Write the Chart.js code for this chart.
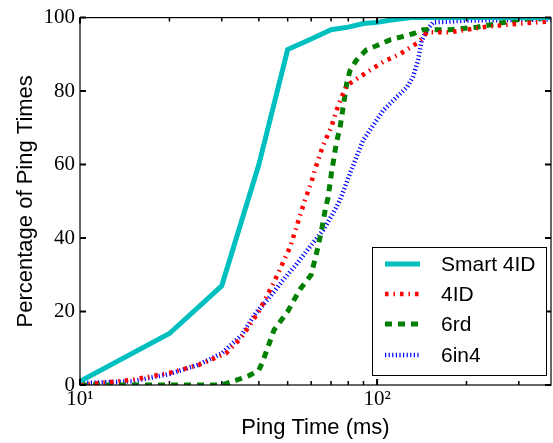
<!DOCTYPE html>
<html>
<head>
<meta charset="utf-8">
<script src="https://cdn.jsdelivr.net/npm/chart.js@4.4.0/dist/chart.umd.min.js"></script>
<style>
  html, body { margin: 0; padding: 0; background: #fff; }
  #wrap { width: 553px; height: 443px; }
</style>
</head>
<body>
<div id="wrap"><canvas id="pingChart" width="553" height="443"></canvas></div>
<script>
// ping time (ms) / percentage
var smartX = [10, 20, 30, 40, 50, 60, 70, 80, 90, 100, 110, 130, 385];
var smartY = [1, 14, 27, 60, 91.3, 94.2, 96.7, 97.4, 98.4, 98.7, 99.3, 100, 100];

var id4X = [10, 15, 20, 25, 31, 35, 40, 45, 51, 57, 60, 62, 66, 70, 73, 76, 79, 88, 105, 119, 136, 143, 147, 176, 227, 295, 385];
var id4Y = [0, 1.4, 3.3, 5.4, 8.6, 13, 20, 28, 37.6, 50, 55, 59, 65.5, 70, 74.7, 78.4, 81.5, 84, 88, 90, 93, 94.6, 96, 96, 97.4, 98.3, 99];

var rdX = [10, 30, 33.6, 37, 40, 41.4, 45, 50, 55, 60, 63, 65, 67, 68.4, 70.3, 73, 75, 77, 79, 81, 85, 92, 100, 111, 120, 132, 143, 176, 217, 260, 300, 385];
var rdY = [0, 0, 1.3, 2.5, 4, 6.8, 15, 20, 26, 30, 37, 42, 48, 51, 58, 66, 70, 76, 82, 85.5, 88.3, 91.2, 92.4, 94, 94.7, 95.6, 96.7, 96.7, 97.4, 98.5, 99.5, 100];

var in4X = [10, 15, 20, 25, 30, 35, 39, 43.6, 48.2, 53.7, 59.4, 65.8, 71.1, 75, 81.1, 89.7, 104.8, 116.4, 125.9, 132, 137.3, 141.3, 146.8, 154.4, 200, 385];
var in4Y = [0.5, 1, 3, 5.5, 8.6, 13.6, 19.5, 24, 28.5, 33, 37.6, 42.1, 46.7, 50.3, 57.6, 66.6, 74.7, 78.4, 81, 83.8, 88.3, 93.7, 96.5, 98.7, 99.2, 99.5];

var seriesNames = ['Smart 4ID', '4ID', '6rd', '6in4'];
var yTicks = [0, 20, 40, 60, 80, 100];
var xMajor = [10, 100];
var xMinor = [20, 30, 40, 50, 60, 70, 80, 90, 200, 300];

function pts(xs, ys) {
	var out = [];
	for (var i = 0; i < xs.length; i++) {
		out.push({x: xs[i], y: ys[i]});
	}
	return out;
}

var serif = "'Liberation Serif', 'DejaVu Serif', serif";
var sans = "'Liberation Sans', Arial, sans-serif";

// frame + inward ticks on all four sides, like the original
var frameTicks = {
	id: 'frameTicks',
	afterDatasetsDraw: function(chart) {
		var ctx = chart.ctx;
		var a = chart.chartArea;
		var xs = chart.scales.x, ys = chart.scales.y;
		ctx.save();
		ctx.strokeStyle = '#000';
		ctx.lineWidth = 1.2;
		ctx.strokeRect(a.left, a.top, a.right - a.left, a.bottom - a.top);
		ctx.lineWidth = 2;
		ctx.beginPath();
		yTicks.forEach(function(v) {
			var py = ys.getPixelForValue(v);
			ctx.moveTo(a.left, py); ctx.lineTo(a.left + 6, py);
			ctx.moveTo(a.right, py); ctx.lineTo(a.right - 6, py);
		});
		xMajor.forEach(function(v) {
			var px = xs.getPixelForValue(v);
			ctx.moveTo(px, a.bottom); ctx.lineTo(px, a.bottom - 6);
			ctx.moveTo(px, a.top); ctx.lineTo(px, a.top + 6);
		});
		ctx.stroke();
		ctx.lineWidth = 1.5;
		ctx.beginPath();
		xMinor.forEach(function(v) {
			var px = xs.getPixelForValue(v);
			ctx.moveTo(px, a.bottom); ctx.lineTo(px, a.bottom - 4);
			ctx.moveTo(px, a.top); ctx.lineTo(px, a.top + 4);
		});
		ctx.stroke();
		ctx.restore();
	}
};

// legend box inside the plot, lower right
var innerLegend = {
	id: 'innerLegend',
	afterDraw: function(chart) {
		var ctx = chart.ctx;
		var bx = 372, by = 247, bw = 174, bh = 128;
		ctx.save();
		ctx.fillStyle = '#fff';
		ctx.fillRect(bx, by, bw, bh);
		ctx.strokeStyle = '#000';
		ctx.lineWidth = 1;
		ctx.strokeRect(bx + 0.5, by + 0.5, bw, bh);
		var rows = [264, 294, 324, 355];
		chart.data.datasets.forEach(function(ds, i) {
			var ry = rows[i];
			ctx.strokeStyle = ds.borderColor;
			ctx.lineWidth = ds.borderWidth;
			ctx.lineCap = 'butt';
			ctx.setLineDash(ds.borderDash || []);
			ctx.beginPath();
			ctx.moveTo(385, ry); ctx.lineTo(420, ry);
			ctx.stroke();
			ctx.setLineDash([]);
			ctx.fillStyle = '#000';
			ctx.font = '21px ' + sans;
			ctx.textBaseline = 'middle';
			ctx.fillText(ds.label, 441, ry + 1);
		});
		ctx.restore();
	}
};

var ctx = document.getElementById('pingChart');
var pingChart = new Chart(ctx, {
	type: 'line',
	data: {
		datasets: [{
			label: seriesNames[0],
			data: pts(smartX, smartY),
			borderColor: '#00BFBF',
			borderWidth: 5
		}, {
			label: seriesNames[1],
			data: pts(id4X, id4Y),
			borderColor: '#FF0000',
			borderWidth: 4.5,
			borderDash: [3.5, 5, 1.5, 5]
		}, {
			label: seriesNames[2],
			data: pts(rdX, rdY),
			borderColor: '#008000',
			borderWidth: 5,
			borderDash: [7, 6]
		}, {
			label: seriesNames[3],
			data: pts(in4X, in4Y),
			borderColor: '#0000FF',
			borderWidth: 4.5,
			borderDash: [1.2, 2.4]
		}]
	},
	options: {
		responsive: false,
		animation: false,
		layout: { padding: { top: 17, right: 2, left: 0, bottom: 0 } },
		elements: {
			point: { radius: 0 },
			line: { tension: 0, borderCapStyle: 'butt', fill: false }
		},
		plugins: {
			legend: { display: false },
			tooltip: { enabled: false }
		},
		scales: {
			x: {
				type: 'logarithmic',
				min: 10,
				max: 385,
				afterBuildTicks: function(scale) {
					scale.ticks = xMajor.map(function(v) { return {value: v}; });
				},
				afterFit: function(scale) { scale.height = 58; },
				ticks: {
					color: '#000',
					padding: 2,
					maxRotation: 0,
					font: { family: serif, size: 21 },
					callback: function(v) {
						if (v === 10) return '10\u00B9';
						if (v === 100) return '10\u00B2';
						return '';
					}
				},
				grid: { display: false, drawTicks: false },
				border: { display: false },
				title: {
					display: true,
					text: 'Ping Time (ms)',
					color: '#000',
					font: { family: sans, size: 22 },
					padding: { top: 0, bottom: 2 }
				}
			},
			y: {
				min: 0,
				max: 100,
				afterBuildTicks: function(scale) {
					scale.ticks = yTicks.map(function(v) { return {value: v}; });
				},
				afterFit: function(scale) { scale.width = 80; },
				ticks: {
					color: '#000',
					padding: 5,
					font: { family: serif, size: 21 }
				},
				grid: { display: false, drawTicks: false },
				border: { display: false },
				title: {
					display: true,
					text: 'Percentage of Ping Times',
					color: '#000',
					font: { family: sans, size: 22 },
					padding: { top: 13, bottom: 0 }
				}
			}
		}
	},
	plugins: [frameTicks, innerLegend]
});
</script>
</body>
</html>
